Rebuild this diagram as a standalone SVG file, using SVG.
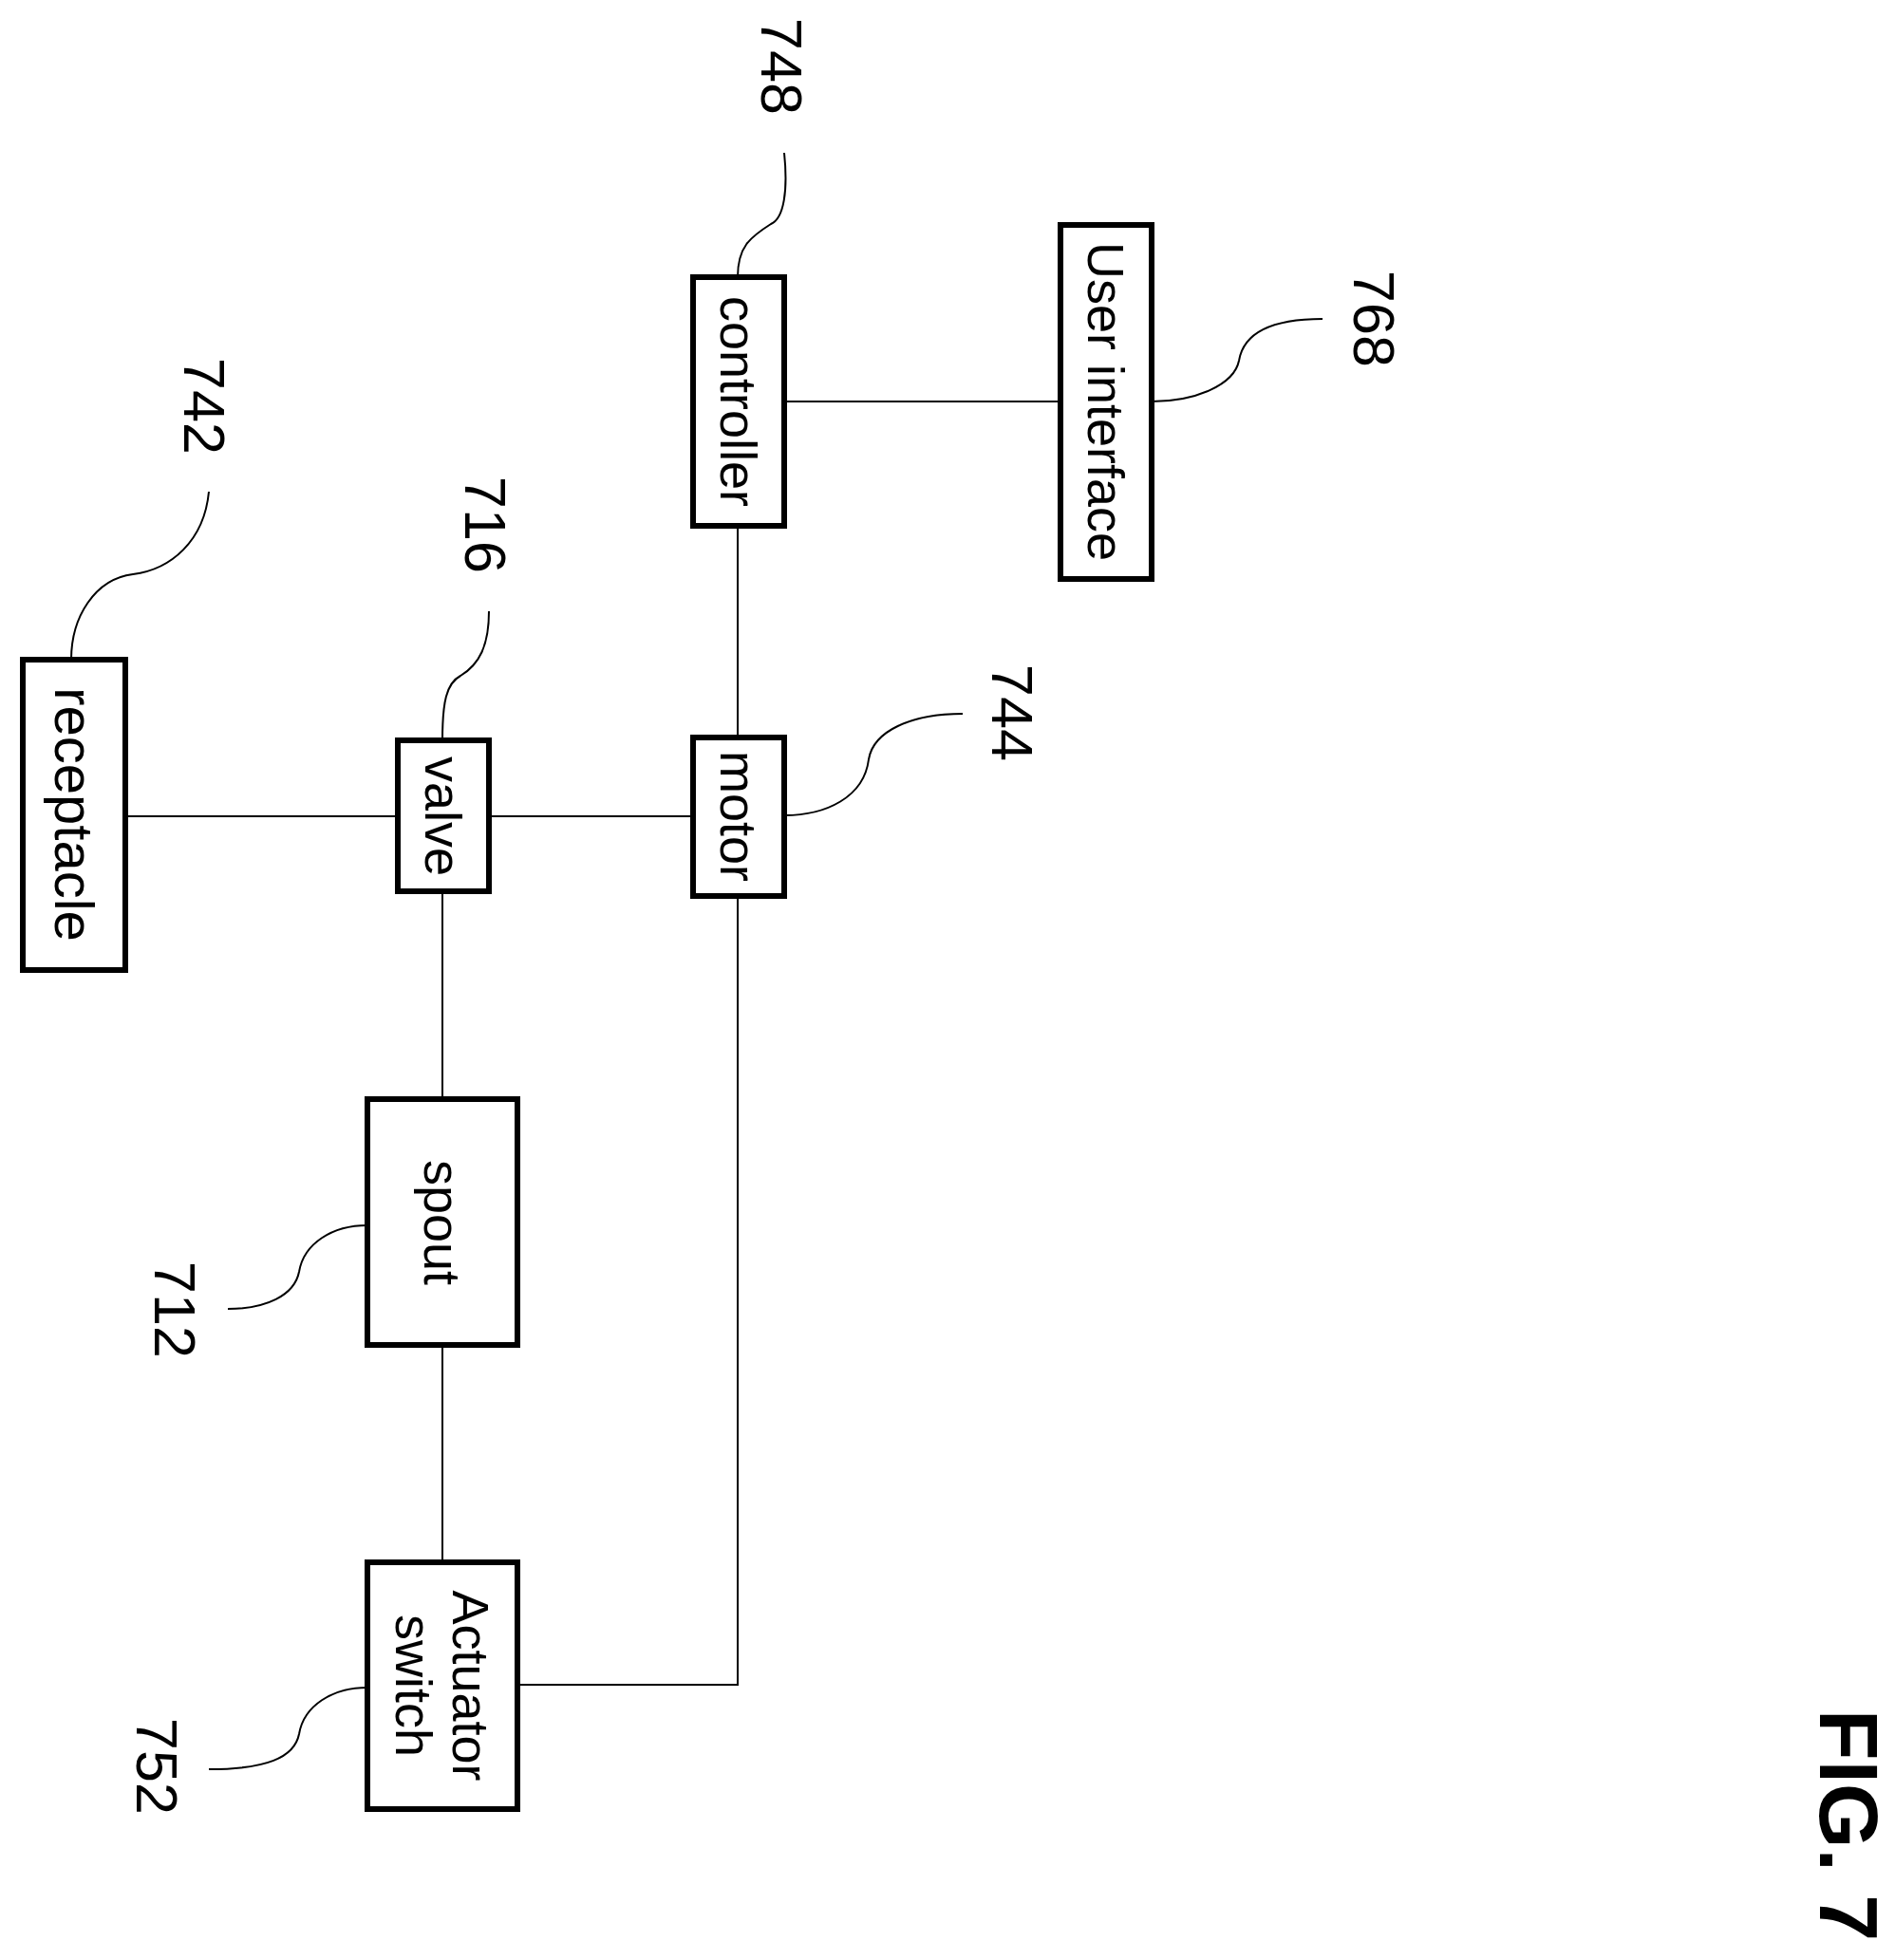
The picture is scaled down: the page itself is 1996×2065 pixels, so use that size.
<svg xmlns="http://www.w3.org/2000/svg" width="1996" height="2065" viewBox="0 0 1996 2065">
<style>
.box{fill:#fff;stroke:#000;stroke-width:6}
.ln{fill:none;stroke:#000;stroke-width:2}
.t{font-family:"Liberation Sans",Arial,sans-serif;font-size:54px;text-anchor:middle;dominant-baseline:central}
.n{font-family:"Liberation Sans",Arial,sans-serif;font-size:61px;text-anchor:middle;dominant-baseline:central}
</style>
<rect width="1996" height="2065" fill="#fff"/>
<g id="connectors">
<path class="ln" d="M826,423 H1117"/>
<path class="ln" d="M777,554 V777"/>
<path class="ln" d="M132,860 H730"/>
<path class="ln" d="M466,939 V1158"/>
<path class="ln" d="M466,1417 V1646"/>
<path class="ln" d="M777,944 V1775 H545"/>
<path class="ln" d="M826,161 C830,200 826,230 812,236 C790,250 777,260 777,292"/>
<path class="ln" d="M1213,423 C1260,423 1300,405 1305,380 C1310,350 1340,336 1393,336"/>
<path class="ln" d="M75,695 C75,650 100,610 140,605 C180,600 215,570 220,518"/>
<path class="ln" d="M466,780 C466,740 470,720 485,712 C505,700 515,680 515,644"/>
<path class="ln" d="M826,859 C870,859 910,840 915,800 C920,770 960,752 1014,752"/>
<path class="ln" d="M387,1291 C350,1291 320,1310 315,1340 C310,1365 280,1379 240,1379"/>
<path class="ln" d="M387,1778 C350,1778 320,1797 315,1827 C310,1852 280,1864 220,1864"/>
</g>
<g id="controller"><rect class="box" x="730" y="292" width="96" height="262"/><text class="t" transform="translate(778,423) rotate(90)">controller</text></g>
<g id="user-interface"><rect class="box" x="1117" y="237" width="96" height="373"/><text class="t" transform="translate(1165,423) rotate(90)">User interface</text></g>
<g id="motor"><rect class="box" x="730" y="777" width="96" height="167"/><text class="t" transform="translate(778,860) rotate(90)">motor</text></g>
<g id="valve"><rect class="box" x="419" y="780" width="96" height="159"/><text class="t" transform="translate(467,860) rotate(90)">valve</text></g>
<g id="receptacle"><rect class="box" x="24" y="695" width="108" height="327"/><text class="t" transform="translate(78,858) rotate(90)" style="font-size:58px">receptacle</text></g>
<g id="spout"><rect class="box" x="387" y="1158" width="158" height="259"/><text class="t" transform="translate(466,1288) rotate(90)">spout</text></g>
<g id="actuator-switch"><rect class="box" x="387" y="1646" width="158" height="260"/><text class="t" transform="translate(496,1776) rotate(90)">Actuator</text><text class="t" transform="translate(436,1776) rotate(90)">switch</text></g>
<g id="labels">
<text class="n" transform="translate(823,70) rotate(90)">748</text>
<text class="n" transform="translate(1447,336) rotate(90)">768</text>
<text class="n" transform="translate(215,428) rotate(90)">742</text>
<text class="n" transform="translate(511,553) rotate(90)">716</text>
<text class="n" transform="translate(1066,751) rotate(90)">744</text>
<text class="n" transform="translate(184,1380) rotate(90)">712</text>
<text class="n" transform="translate(165,1861) rotate(90)">752</text>
<text class="n" transform="translate(1947,1923) rotate(90)" style="font-size:88px;font-weight:bold">FIG. 7</text>
</g>
</svg>
